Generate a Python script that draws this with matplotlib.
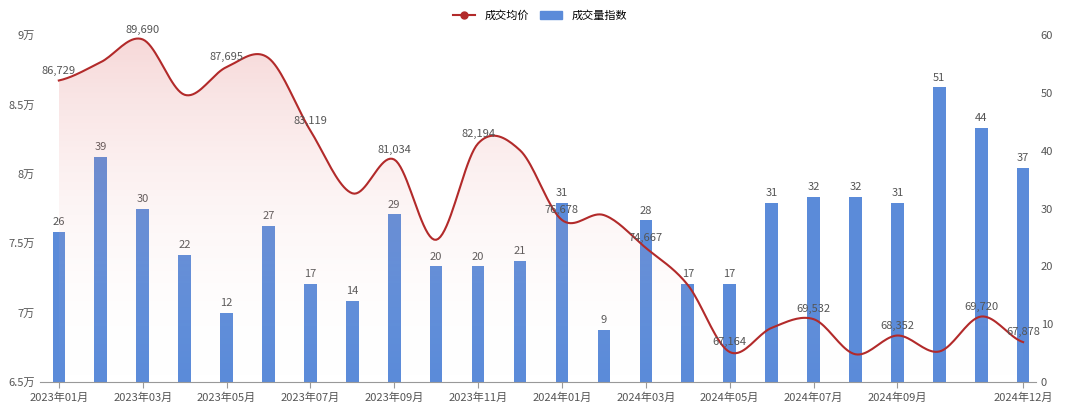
import numpy as np
import matplotlib
matplotlib.use("Agg")
import matplotlib.pyplot as plt
from matplotlib.lines import Line2D
from matplotlib.patches import Patch

plt.rcParams['font.family'] = ['Noto Sans CJK SC', 'DejaVu Sans']

months = ["2023年01月","2023年02月","2023年03月","2023年04月","2023年05月","2023年06月",
          "2023年07月","2023年08月","2023年09月","2023年10月","2023年11月","2023年12月",
          "2024年01月","2024年02月","2024年03月","2024年04月","2024年05月","2024年06月",
          "2024年07月","2024年08月","2024年09月","2024年10月","2024年11月","2024年12月"]
volume = [26,39,30,22,12,27,17,14,29,20,20,21,31,9,28,17,17,31,32,32,31,51,44,37]
price = [86729,88050,89690,85700,87695,88350,83119,78600,81034,75250,82194,81700,
         76678,77030,74667,72000,67164,68900,69532,67000,68352,67200,69720,67878]
labeled = [0,2,4,6,8,10,12,14,16,18,20,22,23]

def catmull(y, n=20):
    y = np.asarray(y, float)
    xs, ys = [], []
    yp = np.concatenate([[y[0]], y, [y[-1]]])
    for i in range(len(y)-1):
        p0,p1,p2,p3 = yp[i],yp[i+1],yp[i+2],yp[i+3]
        t = np.linspace(0,1,n,endpoint=False)
        ys.append(0.5*((2*p1)+(-p0+p2)*t+(2*p0-5*p1+4*p2-p3)*t**2+(-p0+3*p1-3*p2+p3)*t**3))
        xs.append(i+t)
    xs.append([len(y)-1]); ys.append([y[-1]])
    return np.concatenate(xs), np.concatenate(ys)

fig = plt.figure(figsize=(10.8,4.13), dpi=100)
ax = fig.add_axes([0.037,0.075,0.922,0.84])
ax2 = ax.twinx()
x = np.arange(len(months))
ax2.bar(x, volume, width=0.3, color='#5b8bd9', zorder=2)
for xi,v in zip(x,volume):
    ax2.text(xi, v+0.8, str(v), ha='center', va='bottom', fontsize=8, color='#555')
ax2.set_ylim(0,60); ax2.set_yticks(range(0,61,10))

xs, ys = catmull(price)
ax.set_zorder(ax2.get_zorder()+1); ax.patch.set_visible(False)
ax.set_ylim(65000,90000)
grad = np.linspace(0,1,256).reshape(-1,1)
im = ax.imshow(grad, extent=[xs[0],xs[-1],65000,90000], aspect='auto',
               cmap=matplotlib.colors.LinearSegmentedColormap.from_list('g',[(1,1,1,0),(0.85,0.3,0.3,0.22)]),
               origin='lower', zorder=1)
poly = ax.fill_between(xs, ys, 65000, color='none')
im.set_clip_path(poly.get_paths()[0], transform=ax.transData)
ax.plot(xs, ys, color='#b22a2a', lw=1.5, zorder=3)
for i in labeled:
    ax.text(i, price[i]+350, f"{price[i]:,}", ha='center', va='bottom', fontsize=8, color='#555', zorder=4)
ax.set_yticks([65000,70000,75000,80000,85000,90000])
ax.set_yticklabels(["6.5万","7万","7.5万","8万","8.5万","9万"])
ax.set_xlim(-0.45,23.3)
ticks = list(range(0,21,2))+[23]
ax.set_xticks(ticks); ax.set_xticklabels([months[i] for i in ticks])
for a in (ax,ax2):
    a.tick_params(labelsize=8, colors='#555', length=0)
    for s in a.spines.values(): s.set_visible(False)
ax.spines['bottom'].set_visible(True); ax.spines['bottom'].set_color('#999')
ax.tick_params(axis='x', length=4, color='#999')
h = [Line2D([],[],color='#b22a2a',marker='o',ms=5,lw=1.5), Patch(color='#5b8bd9')]
fig.legend(h, ["成交均价","成交量指数"], loc='upper center', ncol=2, frameon=False, fontsize=8,
           bbox_to_anchor=(0.5,1.0), handlelength=2, columnspacing=1)
fig.savefig("out.png", dpi=100)
